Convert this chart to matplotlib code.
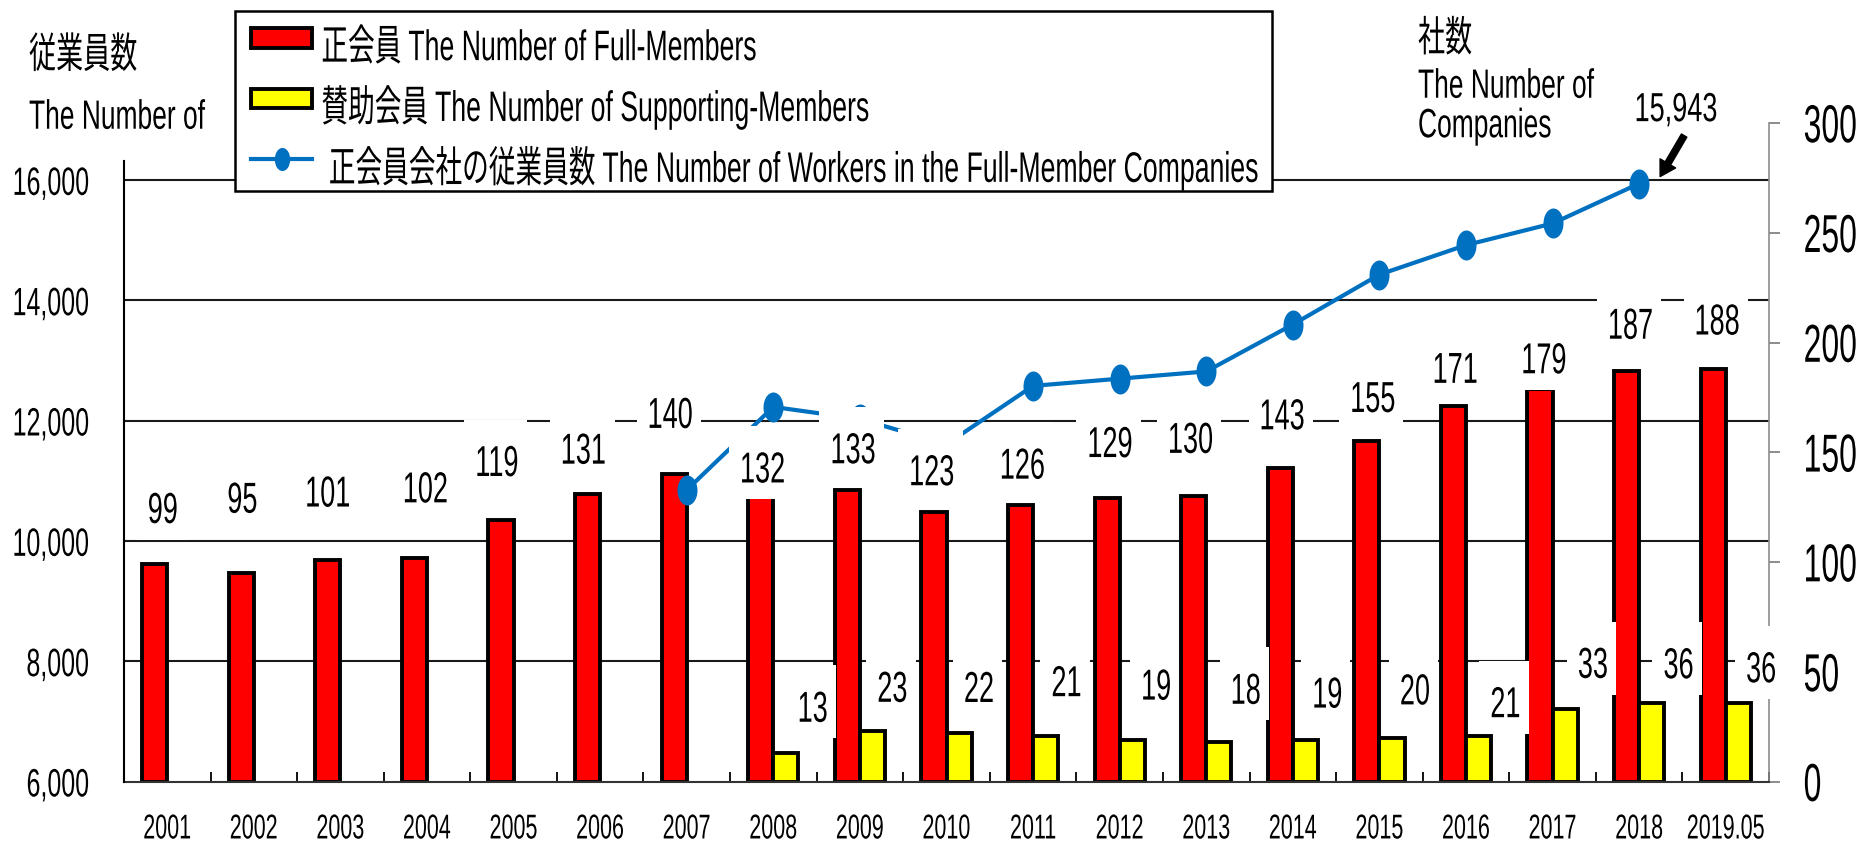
import numpy as np
import matplotlib
matplotlib.use("Agg")
import matplotlib.pyplot as plt
import matplotlib.patheffects as pe
import matplotlib.transforms as mtransforms
from matplotlib.path import Path
from matplotlib.ticker import FixedLocator, FuncFormatter

# data
years = ["2001", "2002", "2003", "2004", "2005", "2006", "2007", "2008", "2009",
         "2010", "2011", "2012", "2013", "2014", "2015", "2016", "2017", "2018",
         "2019.05"]
full_members = [99, 95, 101, 102, 119, 131, 140, 132, 133, 123, 126, 129, 130,
                143, 155, 171, 179, 187, 188]
supporting_members = [None, None, None, None, None, None, None, 13, 23, 22, 21,
                      19, 18, 19, 20, 21, 33, 36, 36]
workers = [None, None, None, None, None, None, 10850, 12230, 12030, 11610,
           12580, 12700, 12820, 13600, 14430, 14920, 15280, 15943, None]

left_ticks = [6000, 8000, 10000, 12000, 14000, 16000]
right_ticks = [0, 50, 100, 150, 200, 250, 300]
grid_values = [8000, 10000, 12000, 14000, 16000]

legend_labels = ["正会員 The Number of Full-Members",
                 "賛助会員 The Number of Supporting-Members",
                 " 正会員会社の従業員数 The Number of Workers in the Full-Member Companies"]

# hand placed data labels in the source: nudges in pixels (x right, y up from bar top)
full_dx = [8, 1, 0, 11, -4, -4, -4, 2, 6, -2, 2, 3, -3, 2, 6, 2, 4, 4, 4]
full_dy = [57, 76, 69, 71, 60, 46, 62, 25, 42, 42, 42, 57, 59, 54, 45, 39, 31, 48, 50]
sup_dx = [27, 20, 20, 21, 24, 27, 22, 23, 27, 28, 27, 23]
sup_dy = [47, 45, 47, 55, 56, 54, 48, 49, 34, 47, 40, 36]

DPI = 100
W, H = 1863, 844


def pt(px):
    return px * 72.0 / DPI


class VStretch(pe.AbstractPathEffect):
    """Draw glyphs taller than wide, like the narrow font of the original."""

    def __init__(self, sy=1.55, mid=36):
        super().__init__()
        self.sy = sy
        self.mid = mid

    def draw_path(self, renderer, gc, tpath, affine, rgbFace=None):
        stretch = (mtransforms.Affine2D().translate(0, -self.mid)
                   .scale(1, self.sy).translate(0, self.mid))
        renderer.draw_path(gc, tpath, stretch + affine, rgbFace)


def label_box(x0, y0, width, height, mutation_size):
    # white box behind the data labels, taller than the text like in Excel
    mid = y0 + 0.21 * mutation_size + 0.36 * mutation_size
    x1, x2 = x0 - 11, x0 + width + 8
    y1, y2 = mid - 32, mid + 41
    return Path([(x1, y1), (x2, y1), (x2, y2), (x1, y2), (x1, y1)], closed=True)


plt.rcParams["font.family"] = ["Liberation Sans", "Noto Sans CJK JP", "DejaVu Sans"]

fig = plt.figure(figsize=(W / DPI, H / DPI), dpi=DPI)
ax = fig.add_axes([124 / W, 1 - 781.7 / H, (1769 - 124) / W, (781.7 - 123) / H])
ax_line = ax.twinx()
ax.yaxis.tick_right()
ax_line.yaxis.tick_left()

x = np.arange(len(years))
w = 0.29

full = np.array(full_members, float)
sup = np.array([np.nan if v is None else v for v in supporting_members], float)
wrk = np.array([np.nan if v is None else v for v in workers], float)
has_sup = ~np.isnan(sup)

# bars (right scale)
full_bars = ax.bar(x - w / 2, full, width=w, color="#FF0000", edgecolor="black",
                   linewidth=2.8, zorder=2)
sup_bars = ax.bar(x[has_sup] + w / 2, sup[has_sup], width=w, color="#FFFF00",
                  edgecolor="black", linewidth=2.8, zorder=2)

# gridlines belong to the left scale but sit under the bars
blend = mtransforms.blended_transform_factory(ax.transAxes, ax_line.transData)
ax.hlines(grid_values, 0, 1, transform=blend, colors="#1a1a1a", linewidth=1.5,
          zorder=1)

# workers line (left scale)
circ = Path.unit_circle()
ellipse = Path(circ.vertices * [0.667, 1.0], circ.codes)
line, = ax_line.plot(x, wrk, color="#0070C0", linewidth=3, marker=ellipse,
                     markersize=pt(30), markeredgewidth=0, zorder=3)

ax.set_xlim(-0.5, len(years) - 0.5)
ax.set_ylim(0, 300)
ax_line.set_ylim(6000, 16950)

# x axis
ax.set_xticks(x)
ax.set_xticklabels(years)
ax.xaxis.set_minor_locator(FixedLocator(np.arange(-0.5, len(years), 1.0)))
ax.tick_params(axis="x", which="major", length=0, labelsize=15.5, pad=26)
ax.tick_params(axis="x", which="minor", direction="in", length=pt(10), width=1.3,
               color="black")

# right axis
ax.set_yticks(right_ticks)
ax.tick_params(axis="y", direction="out", length=pt(11), width=1.4, color="#8c8c8c",
               labelsize=23, pad=17)

# left axis
ax_line.set_yticks(left_ticks)
ax_line.yaxis.set_major_formatter(FuncFormatter(lambda v, p: f"{int(v):,}"))
ax_line.tick_params(axis="y", length=0, labelsize=18, pad=25)

for s in ["top", "left"]:
    ax.spines[s].set_visible(False)
ax.spines["right"].set_color("#8c8c8c")
ax.spines["right"].set_linewidth(1.2)
ax.spines["bottom"].set_color("#333333")
ax.spines["bottom"].set_linewidth(1.5)
for s in ["top", "right", "bottom"]:
    ax_line.spines[s].set_visible(False)
ax_line.spines["left"].set_linewidth(1.5)
ax_line.spines["left"].set_bounds(6000, 16320)

for tick in ax.xaxis.get_major_ticks():
    tick.label1.set_path_effects([VStretch(1.6)])
for tick in ax.yaxis.get_major_ticks():
    tick.label1.set_path_effects([VStretch(1.67)])
    tick.label2.set_path_effects([VStretch(1.67)])
for tick in ax_line.yaxis.get_major_ticks():
    tick.label1.set_path_effects([VStretch(1.58)])

# data labels, drawn on the top axes so their boxes hide the line
lab_size = 19.5
lift = 0.36 * lab_size / 0.72
lab_kw = dict(xycoords=ax.transData, textcoords="offset points", ha="center",
              va="baseline", fontsize=lab_size, zorder=4,
              bbox=dict(boxstyle=label_box, facecolor="white", edgecolor="none"))
for i, v in enumerate(full_members):
    t = ax_line.annotate(str(v), xy=(x[i] - w / 2, v),
                         xytext=(pt(full_dx[i]), pt(full_dy[i] - lift)), **lab_kw)
    t.set_path_effects([VStretch(1.6)])
for k, i in enumerate(np.flatnonzero(has_sup)):
    v = supporting_members[i]
    t = ax_line.annotate(str(v), xy=(x[i] + w / 2, v),
                         xytext=(pt(sup_dx[k]), pt(sup_dy[k] - lift)), **lab_kw)
    t.set_path_effects([VStretch(1.6)])

# latest workers value with its arrow
last = int(np.flatnonzero(~np.isnan(wrk))[-1])
t = ax_line.annotate(f"{workers[last]:,}", xy=(x[last], wrk[last]),
                     textcoords="offset points", xytext=(pt(37), pt(77 - 9.7)),
                     ha="center", va="baseline", fontsize=19.5, zorder=5)
t.set_path_effects([VStretch(1.5)])
tip = mtransforms.offset_copy(ax_line.transData, fig=fig, x=pt(21), y=pt(7),
                              units="points")
ax_line.annotate("", xy=(x[last], wrk[last]), xycoords=tip,
                 textcoords="offset points", xytext=(pt(24), pt(41)),
                 arrowprops=dict(facecolor="black", edgecolor="black", width=4.5,
                                 headwidth=13, headlength=11, shrink=0),
                 zorder=5)

# axis titles


def fig_text(xp, ymid, s, size, sy=1.55):
    base = ymid + 0.36 * size / 0.72
    tt = fig.text(xp / W, 1 - base / H, s, fontsize=size, ha="left", va="baseline")
    tt.set_path_effects([VStretch(sy)])
    return tt


fig_text(29, 52.5, "従業員数", 19.5)
fig_text(29, 114, "The Number of", 19)
fig_text(1418, 36, "社数", 19.5)
fig_text(1418, 83, "The Number of", 19)
fig_text(1418, 122.5, "Companies", 19)

# legend
leg = ax_line.legend([full_bars, sup_bars, line], legend_labels, loc="upper left",
                     bbox_to_anchor=(235 / W, 1 - 11 / H),
                     bbox_transform=fig.transFigure, borderaxespad=0,
                     frameon=True, fancybox=False, framealpha=1,
                     edgecolor="black", borderpad=0.6, labelspacing=1.21,
                     handlelength=2.3, handleheight=0.76, handletextpad=0.34,
                     markerscale=0.77, prop={"size": 19.2})
leg.get_frame().set_linewidth(1.8)
leg.set_zorder(10)
for t in leg.get_texts():
    t.set_path_effects([VStretch(1.6, mid=82)])

fig.savefig("out.png", dpi=DPI)
